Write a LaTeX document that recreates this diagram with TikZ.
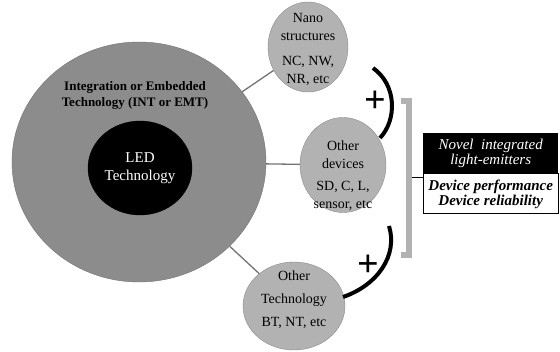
\documentclass[tikz,border=0pt]{standalone}
\usepackage{fontspec}
\setmainfont{Liberation Serif}
\usetikzlibrary{positioning,shapes.geometric}
\tikzstyle{ring} = [
	ellipse,
	inner sep = 0pt,
	fill = black!45,
	draw = black!55
	]
\tikzstyle{core} = [
	ellipse,
	inner sep = 0pt,
	fill = black,
	draw
	]
\tikzstyle{techcirc} = [
	ellipse,
	inner sep = 0pt,
	fill = black!30,
	draw = black!45
	]
\tikzstyle{txt} = [
	align = center,
	font = \fontsize{14}{18}\selectfont
	]
\tikzstyle{link} = [
	draw = black!55,
	line width = 1.3pt
	]
\tikzstyle{plusarc} = [
	draw,
	line width = 4pt
	]
\tikzstyle{plussign} = [
	font = \bfseries\fontsize{38}{38}\selectfont,
	inner sep = 0pt
	]
\tikzstyle{brace} = [
	draw = black!30,
	line width = 6pt
	]
\tikzstyle{result} = [
	rectangle,
	minimum width = 135pt,
	minimum height = 40pt,
	align = center,
	inner sep = 0pt
	]

\begin{document}
\begin{tikzpicture}[x=1pt,y=-1pt]
		\useasboundingbox (0,0) rectangle (560,352);
		\node[ring, minimum width=254pt, minimum height=240pt] (ints) at (139,162) {};
		\node[align=center, font=\bfseries\fontsize{13}{16}\selectfont] (intst) at (135,95) {Integration or Embedded\\Technology (INT or EMT)};
		\node[core, minimum width=104pt, minimum height=94pt, text=white, align=center, font=\fontsize{15}{18}\selectfont] (led) at (140,168) {LED\\Technology};
		\node[techcirc, minimum width=80pt, minimum height=90pt] (nano) at (308,47) {};
		\node[txt] (nanot) at (308,49) {Nano\\structures\\[7pt]NC, NW,\\NR, etc};
		\node[techcirc, minimum width=86pt, minimum height=95pt] (devs) at (343,165) {};
		\node[txt] (devst) at (343,176) {Other\\devices\\[4pt]SD, C, L,\\sensor, etc};
		\node[techcirc, minimum width=102pt, minimum height=88pt] (tech) at (294,306) {};
		\node[txt, font=\fontsize{14}{23}\selectfont] (techt) at (294,300) {Other\\Technology\\BT, NT, etc};
		\draw[link] (ints) -- (nano);
		\draw[link] (ints) -- (devs);
		\draw[link] (ints) -- (tech);
		\draw[plusarc] (373,68) .. controls (397,85) and (397,120) .. (380,138);
		\node[plussign] (plusa) at (375,102) {+};
		\draw[plusarc] (389,226) .. controls (398,255) and (378,285) .. (343,297);
		\node[plussign] (plusb) at (368,266) {+};
		\draw[brace] (401,101) -- (409,101) -- (409,255) -- (401,255);
		\node[result, fill=black, text=white, font=\itshape\fontsize{15}{15}\selectfont, anchor=north west] (novel) at (423,133) {Novel\ \ integrated\\light-emitters};
		\node[result, draw, line width=1pt, fill=white, font=\bfseries\itshape\fontsize{15}{15}\selectfont, below=0pt of novel] (perf) {Device performance\\Device reliability};
		\coordinate (brk) at (412,177);
		\draw (brk) -- (brk -| perf.west);
	\end{tikzpicture}
\end{document}
